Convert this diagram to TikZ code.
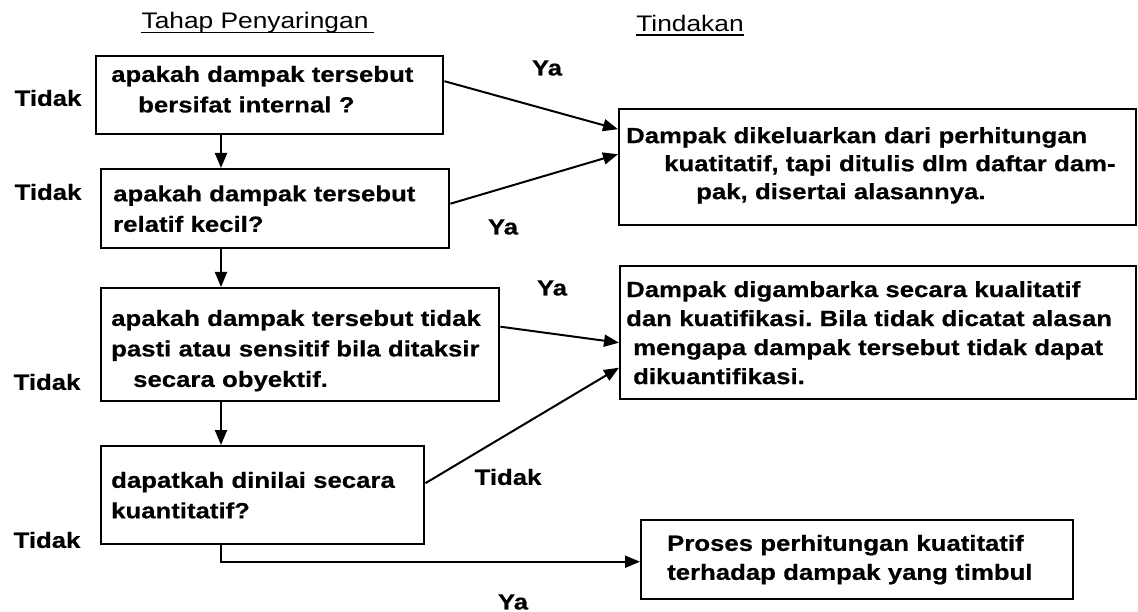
\documentclass[tikz,border=0pt]{standalone}
\usepackage{fontspec}
\setmainfont{Liberation Sans}[FakeStretch=1.17,BoldFeatures={FakeBold=0.5}]
\usetikzlibrary{arrows.meta}
\frenchspacing
\begin{document}
\begin{tikzpicture}[x=1pt,y=-1pt,
  box/.style={draw, line width=2.4pt, rectangle, inner ysep=0pt, anchor=north west,
    align=left, font=\bfseries\fontsize{22}{30.5}\selectfont},
  lbl/.style={font=\bfseries\fontsize{22}{26}\selectfont, inner sep=0pt},
  ttl/.style={font=\fontsize{22.5}{26}\selectfont, inner sep=0pt},
  arr/.style={line width=2pt, -{Triangle[length=15pt,width=12pt]}},
  ul/.style={line width=1.3pt}]
\useasboundingbox (0,0) rectangle (1138,612);
\fill[white] (0,0) rectangle (1138,612);

% titles
\node[ttl] (t1) at (255,23) {Tahap Penyaringan};
\node[ttl] (t2) at (690,23) {Tindakan};
\draw[ul] ([yshift=-4pt]t1.base west) -- ([yshift=-4pt,xshift=5pt]t1.base east);
\draw[ul] ([yshift=-4pt]t2.base west) -- ([yshift=-4pt]t2.base east);

% screening boxes
\node[box, minimum width=347pt, minimum height=78pt, text width=317pt, inner xsep=15pt] (b1) at (95,55)
  {apakah dampak tersebut\\\hspace*{27pt}bersifat internal ?\rule[-12pt]{0pt}{12pt}};
\node[box, minimum width=348pt, minimum height=79pt, text width=324pt, inner xsep=12pt] (b2) at (100,168)
  {apakah dampak tersebut\\relatif kecil?};
\node[box, minimum width=398pt, minimum height=113pt, text width=378pt, inner xsep=10pt] (b3) at (100,287)
  {\rule{0pt}{28pt}apakah dampak tersebut tidak\\pasti atau sensitif bila ditaksir\\\hspace*{22pt}secara obyektif.};
\node[box, minimum width=323pt, minimum height=98pt, text width=303pt, inner xsep=10pt] (b4) at (100,445)
  {dapatkah dinilai secara\\kuantitatif?};

% action boxes
\node[box, minimum width=517pt, minimum height=116pt, text width=503pt, inner xsep=7pt,
  font=\bfseries\fontsize{22}{28}\selectfont] (r1) at (618,108)
  {Dampak dikeluarkan dari perhitungan\\\hspace*{38pt}kuatitatif, tapi ditulis dlm daftar dam-\\\hspace*{70pt}pak, disertai alasannya.\rule[-8pt]{0pt}{8pt}};
\node[box, minimum width=516pt, minimum height=133pt, text width=504pt, inner xsep=6pt,
  font=\bfseries\fontsize{22}{29}\selectfont] (r2) at (619,265)
  {Dampak digambarka secara kualitatif\\dan kuatifikasi. Bila tidak dicatat alasan\\\hspace*{7pt}mengapa dampak tersebut tidak dapat\\\hspace*{7pt}dikuantifikasi.};
\node[box, minimum width=432pt, minimum height=79pt, text width=380pt, inner xsep=26pt,
  font=\bfseries\fontsize{22}{29}\selectfont] (r3) at (640,519)
  {Proses perhitungan kuatitatif\\terhadap dampak yang timbul};

% labels
\node[lbl] (n1) at (48,98) {Tidak};
\node[lbl] (n2) at (48,192) {Tidak};
\node[lbl] (n3) at (47,382) {Tidak};
\node[lbl] (n4) at (47,540) {Tidak};
\node[lbl] (n5) at (508,477) {Tidak};
\node[lbl] (y1) at (547,68) {Ya};
\node[lbl] (y2) at (503,227) {Ya};
\node[lbl] (y3) at (552,288) {Ya};
\node[lbl] (y4) at (513,602) {Ya};

% spine of the screening chain
\coordinate (spine) at (221,0);
\draw[arr] (b1.south -| spine) -- (b2.north -| spine);
\draw[arr] (b2.south -| spine) -- (b3.north -| spine);
\draw[arr] (b3.south -| spine) -- (b4.north -| spine);
\draw[arr] (b4.south -| spine) |- ([yshift=-2pt]r3.west);

% side arrows
\draw[arr] ([yshift=14pt]b1.east) -- ([yshift=38pt]r1.west);
\draw[arr] ([yshift=5pt]b2.east) -- ([yshift=13pt]r1.west);
\draw[arr] ([yshift=18pt]b3.east) -- ([yshift=-10pt]r2.west);
\draw[arr] ([yshift=12pt]b4.east) -- ([yshift=-35pt]r2.west);
\end{tikzpicture}
\end{document}
